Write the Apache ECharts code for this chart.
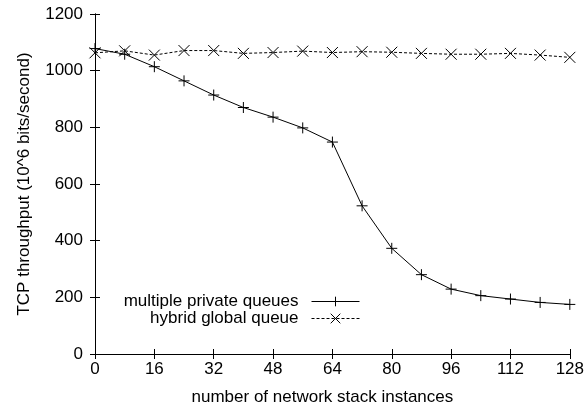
<!DOCTYPE html>
<html>
<head>
<meta charset="utf-8">
<script src="https://cdn.jsdelivr.net/npm/echarts@6/dist/echarts.min.js"></script>
<style>
  html, body { margin: 0; padding: 0; background: #fff; }
  #chart { width: 587px; height: 413px; }
</style>
</head>
<body>
<div id="chart"></div>
<script>
// x positions (number of network stack instances)
const instances = [0, 8, 16, 24, 32, 40, 48, 56, 64, 72, 80, 88, 96, 104, 112, 120, 128];
const privateQueues = [1078, 1058, 1014, 964, 914, 870, 836, 798, 748, 523, 373, 280, 229, 206, 194, 182, 175];
const hybridQueue = [1063, 1070, 1055, 1071, 1071, 1061, 1064, 1069, 1064, 1067, 1065, 1061, 1058, 1058, 1061, 1055, 1047];
const xTicks = [0, 16, 32, 48, 64, 80, 96, 112, 128];

const FONT = 'Liberation Sans';
const FS = 17;
const plusPath = 'path://M0,5L10,5M5,0L5,10';
const crossPath = 'path://M0,0L10,10M10,0L0,10';

const chart = echarts.init(document.getElementById('chart'));

const pair = (xs, ys) => xs.map((x, i) => [x, ys[i]]);

const axisLine = { show: true, lineStyle: { color: '#000', width: 1 } };
const axisTick = { show: true, inside: true, length: 5, lineStyle: { color: '#000' } };
const txt = { fontFamily: FONT, fontSize: FS, color: '#000' };

const legendBase = {
  right: 222,
  align: 'right', itemWidth: 48, itemHeight: 12, itemGap: 0,
  textStyle: Object.assign({}, txt, { padding: [0, 8, 0, 0] }),
  lineStyle: { width: 1 },
  itemStyle: { borderWidth: 1 },
};

chart.setOption({
  animation: false,
  backgroundColor: '#fff',
  grid: { left: 95, right: 17, top: 14, bottom: 59 },
  legend: [
    Object.assign({ data: ['multiple private queues'], top: 288 }, legendBase),
    Object.assign({ data: ['hybrid global queue'], top: 305 }, legendBase),
  ],
  xAxis: [
    {
      type: 'value', min: 0, max: 128, interval: 16,
      name: 'number of network stack instances',
      nameLocation: 'middle', nameGap: 35,
      nameTextStyle: Object.assign({}, txt, { padding: [0, 20, 0, 0] }),
      axisLine, axisTick,
      axisLabel: Object.assign({}, txt, { margin: 7,
        formatter: v => xTicks.includes(v) ? String(v) : '' }),
      splitLine: { show: false },
    },
    {
      type: 'value', min: 0, max: 128, interval: 16, position: 'top',
      axisLine, axisTick, axisLabel: { show: false }, splitLine: { show: false },
    },
  ],
  yAxis: [
    {
      type: 'value', min: 0, max: 1200, interval: 200,
      name: 'TCP throughput (10^6 bits/second)',
      nameLocation: 'middle', nameGap: 62,
      nameTextStyle: txt,
      axisLine, axisTick,
      axisLabel: Object.assign({}, txt, { margin: 12, formatter: v => String(v) }),
      splitLine: { show: false },
    },
    {
      type: 'value', min: 0, max: 1200, interval: 200, position: 'right',
      axisLine, axisTick, axisLabel: { show: false }, splitLine: { show: false },
    },
  ],
  series: [
    {
      name: 'multiple private queues',
      type: 'line',
      data: pair(instances, privateQueues),
      symbol: plusPath,
      symbolSize: 11,
      lineStyle: { color: '#000', width: 1 },
      itemStyle: { color: '#000', borderColor: '#000', borderWidth: 1 },
    },
    {
      name: 'hybrid global queue',
      type: 'line',
      data: pair(instances, hybridQueue),
      symbol: crossPath,
      symbolSize: 11,
      lineStyle: { color: '#000', width: 1, type: [3, 2] },
      itemStyle: { color: '#000', borderColor: '#000', borderWidth: 1 },
    },
  ],
});
</script>
</body>
</html>
